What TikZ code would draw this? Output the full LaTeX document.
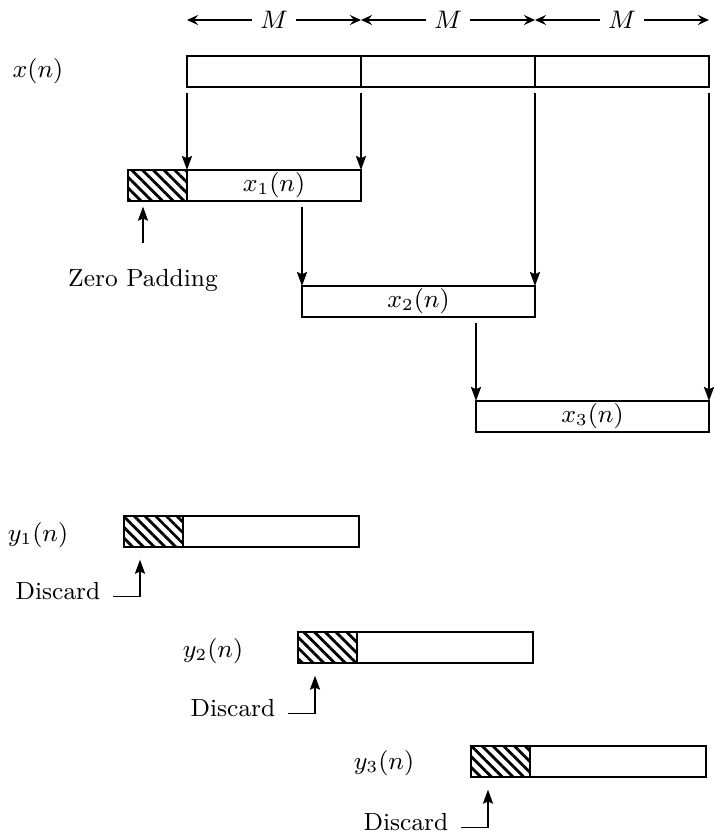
\documentclass[tikz,border=0pt]{standalone}
\usetikzlibrary{arrows.meta,patterns.meta}
\newcommand{\px}{0.0125cm}
\tikzset{
  blk/.style={draw, line width=0.6pt, anchor=north west, inner sep=0pt, outer sep=0pt, minimum height=31*\px},
  pad/.style={blk, minimum width=59*\px, pattern={Lines[angle=-45,distance=2.7pt,line width=1pt]}},
  arr/.style={line width=0.6pt, -{Stealth[length=5pt,width=3.6pt,inset=0.8pt]}},
  dimarr/.style={line width=0.5pt, {Stealth[length=4pt,width=3.6pt,inset=1.5pt]}-{Stealth[length=4pt,width=3.6pt,inset=1.5pt]}},
}
\begin{document}
\begin{tikzpicture}[x=\px,y=-\px,font=\fontsize{8.8}{10.5}\selectfont]
\useasboundingbox (0,0) rectangle (714,833);
% input sequence
\node (xl) at (38,71) {$x(n)$};
\node[blk, minimum width=174*\px] (xa) at (187,56) {};
\node[blk, minimum width=174*\px] (xb) at (xa.north east) {};
\node[blk, minimum width=174*\px] (xc) at (xb.north east) {};
\draw[line width=1pt] (xb.north west) -- (xb.south west);
\draw[line width=1pt] (xc.north west) -- (xc.south west);
% block lengths
\coordinate (m0) at (187,20);
\coordinate (m1) at (361,20);
\coordinate (m2) at (535,20);
\coordinate (m3) at (709,20);
\draw[dimarr] (m0) -- node[fill=white, inner xsep=3pt] {$M$} (m1);
\draw[dimarr] (m1) -- node[fill=white, inner xsep=3pt] {$M$} (m2);
\draw[dimarr] (m2) -- node[fill=white, inner xsep=3pt] {$M$} (m3);
% input blocks
\node[pad] (p1) at (128,170) {};
\node[blk, minimum width=174*\px] (x1) at (p1.north east) {$x_1(n)$};
\node[blk, minimum width=233*\px] (x2) at (302,286) {$x_2(n)$};
\node[blk, minimum width=233*\px] (x3) at (476,401) {$x_3(n)$};
\draw[arr, shorten <=2pt] (xa.south west) -- (x1.north west);
\draw[arr, shorten <=2pt] (xa.south east) -- (x1.north east);
\draw[arr, shorten <=2pt] (x2.north west |- x1.south) -- (x2.north west);
\draw[arr, shorten <=2pt] (xb.south east) -- (x2.north east);
\draw[arr, shorten <=2pt] (x3.north west |- x2.south) -- (x3.north west);
\draw[arr, shorten <=2pt] (xc.south east) -- (x3.north east);
% zero padding
\node (zp) at (143,280) {Zero Padding};
\coordinate (zq) at (143,243);
\draw[arr, shorten >=2pt] (zq) -- (zq |- p1.south);
% output blocks
\node (yl1) at (38,535) {$y_1(n)$};
\node[pad] (q1) at (124,516) {};
\node[blk, minimum width=176*\px] (y1) at (q1.north east) {};
\node (yl2) at (213,651) {$y_2(n)$};
\node[pad] (q2) at (298,632) {};
\node[blk, minimum width=176*\px] (y2) at (q2.north east) {};
\node (yl3) at (384,763) {$y_3(n)$};
\node[pad] (q3) at (471,746) {};
\node[blk, minimum width=176*\px] (y3) at (q3.north east) {};
% discarded points
\node (d1) at (58,591) {Discard};
\node (d2) at (233,708) {Discard};
\node (d3) at (406,822) {Discard};
\coordinate (e1) at ([xshift=16*\px]q1.south west);
\coordinate (e2) at ([xshift=17*\px]q2.south west);
\coordinate (e3) at ([xshift=17*\px]q3.south west);
\draw[arr, shorten >=4.5pt] ([xshift=1pt,yshift=-2pt]d1.east) -| (e1);
\draw[arr, shorten >=4.5pt] ([xshift=1pt,yshift=-2pt]d2.east) -| (e2);
\draw[arr, shorten >=4.5pt] ([xshift=1pt,yshift=-2pt]d3.east) -| (e3);
\end{tikzpicture}
\end{document}
